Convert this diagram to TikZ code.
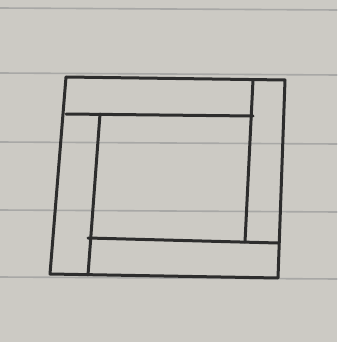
\documentclass[tikz,border=0pt]{standalone}
\usepackage{tikz}
\usetikzlibrary{positioning}
\definecolor{paper}{RGB}{204,202,196}
\definecolor{rule}{RGB}{168,168,166}
\definecolor{ink}{RGB}{45,45,45}
\begin{document}
	\begin{tikzpicture}[x=1pt,y=-1pt,
		ruling/.style={rule, line width=1.6pt},
		pen/.style={ink, line width=3pt, line cap=round, line join=round}]
		\useasboundingbox (0,0) rectangle (337,342);
		\fill[paper] (0,0) rectangle (337,342);
		% ruled lines of the page
		\foreach \y in {8,73,142,210,277}
			\draw[ruling] (0,\y) -- (337,\y+2);
		% outer frame corners
		\coordinate (TL) at (66,77);
		\coordinate (TR) at (285,80);
		\coordinate (BR) at (278,278);
		\coordinate (BL) at (50,274);
		% inner corners of the four strips
		\coordinate (A) at (66,114);
		\coordinate (B) at (253,116);
		\coordinate (C) at (253,80);
		\coordinate (D) at (245,242);
		\coordinate (E) at (278,243);
		\coordinate (F) at (88,238);
		\coordinate (G) at (88,275);
		\coordinate (H) at (100,114);
		\draw[pen] (TL) -- (TR) -- (BR) -- (BL) -- cycle;
		\draw[pen] (A) -- (B);
		\draw[pen] (C) -- (D);
		\draw[pen] (E) -- (F);
		\draw[pen] (H) -- (G);
	\end{tikzpicture}
\end{document}
